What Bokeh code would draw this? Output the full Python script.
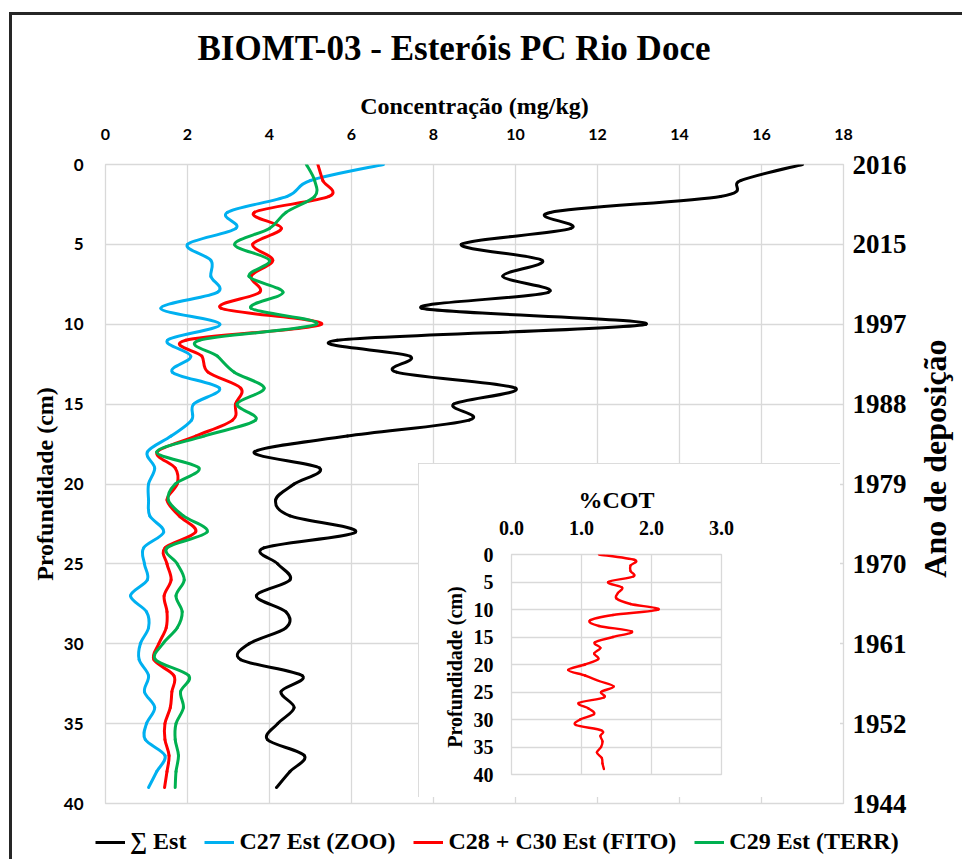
import numpy as np
from bokeh.plotting import figure
from bokeh.models import (Range1d, LinearAxis, FixedTicker, ColumnDataSource,
                          Legend, LegendItem, NumeralTickFormatter)
from bokeh.layouts import column
from bokeh.embed import file_html
from bokeh.resources import INLINE

# ---------------- data ----------------
depth_cm = [0, 1, 2, 3, 4, 5, 6, 7, 8, 9,
            10, 11, 12, 13, 14, 15, 16, 17, 18, 19,
            20, 21, 22, 23, 24, 25, 26, 27, 28, 29,
            30, 31, 32, 33, 34, 35, 36, 37, 38, 39]

sum_est = [17.0, 15.5, 15.0, 10.85, 11.35, 8.68, 10.65, 9.69, 10.8, 7.72,
           13.18, 5.65, 7.43, 7.1, 10.0, 8.49, 8.87, 5.9, 3.63, 5.22,
           4.6, 4.15, 4.5, 6.1, 3.86, 4.2, 4.5, 3.68, 4.4, 4.4,
           3.5, 3.3, 4.8, 4.28, 4.6, 4.2, 3.95, 4.85, 4.5, 4.17]

c27_zoo = [6.78, 5.0, 4.43, 2.97, 3.18, 2.0, 2.57, 2.57, 2.73, 1.35,
           2.79, 1.51, 2.08, 1.63, 2.78, 2.15, 2.1, 1.6, 1.02, 1.2,
           1.05, 1.05, 1.08, 1.42, 0.93, 0.95, 1.02, 0.61, 1.0, 1.05,
           0.85, 0.82, 1.05, 0.95, 1.2, 1.0, 0.97, 1.45, 1.25, 1.05]

c28_c30_fito = [5.18, 5.3, 5.45, 3.63, 4.29, 3.59, 4.08, 3.55, 3.76, 2.82,
                5.27, 1.96, 2.35, 2.5, 3.3, 3.17, 3.1, 2.2, 1.26, 1.7,
                1.75, 1.5, 1.8, 2.2, 1.45, 1.5, 1.6, 1.43, 1.5, 1.48,
                1.3, 1.18, 1.67, 1.62, 1.58, 1.45, 1.45, 1.55, 1.5, 1.44]

c29_terr = [4.9, 5.1, 5.1, 4.4, 4.0, 3.15, 4.0, 3.5, 4.33, 3.55,
            5.14, 2.29, 2.73, 3.14, 3.87, 3.21, 3.66, 2.4, 1.25, 2.28,
            1.7, 1.53, 1.9, 2.48, 1.5, 1.75, 1.92, 1.72, 1.87, 1.75,
            1.4, 1.22, 2.03, 1.83, 1.9, 1.72, 1.7, 1.78, 1.72, 1.7]

cot_pct = [1.25, 1.76, 1.7, 1.7, 1.74, 1.38, 1.58, 1.52, 1.5, 1.7,
           2.1, 1.45, 1.12, 1.25, 1.72, 1.45, 1.19, 1.27, 1.18, 1.24,
           1.05, 0.81, 1.05, 1.25, 1.46, 1.28, 1.32, 0.96, 1.1, 1.18,
           0.98, 0.92, 1.29, 1.27, 1.3, 1.28, 1.22, 1.29, 1.3, 1.32]

series_names = ["\u2211 Est", "C27 Est (ZOO)", "C28 + C30 Est (FITO)", "C29 Est (TERR)"]
series_colors = ["#000000", "#00B0F0", "#FF0000", "#00B050"]

conc_ticks = [0, 2, 4, 6, 8, 10, 12, 14, 16, 18]
depth_ticks = [0, 5, 10, 15, 20, 25, 30, 35, 40]
years = ["2016", "2015", "1997", "1988", "1979", "1970", "1961", "1952", "1944"]
cot_ticks = [0, 1, 2, 3]

SERIF = "Liberation Serif"
SANS = "Lato"
GRID = "#D9D9D9"


def smooth_source(xv, yv):
    x = np.asarray(xv, float)
    y = np.asarray(yv, float)
    n = len(x)
    xp = np.concatenate([[x[0]], x, [x[-1]]])
    yp = np.concatenate([[y[0]], y, [y[-1]]])
    return ColumnDataSource(dict(
        x0=x[:-1], y0=y[:-1], x1=x[1:], y1=y[1:],
        cx0=x[:-1] + (xp[2:n + 1] - xp[0:n - 1]) / 6.0,
        cy0=y[:-1] + (yp[2:n + 1] - yp[0:n - 1]) / 6.0,
        cx1=x[1:] - (xp[3:n + 2] - xp[1:n]) / 6.0,
        cy1=y[1:] - (yp[3:n + 2] - yp[1:n]) / 6.0))


def style_axis(ax, font, size, style="bold"):
    ax.major_tick_out = 0
    ax.major_tick_in = 0
    ax.minor_tick_out = 0
    ax.minor_tick_in = 0
    ax.axis_line_alpha = 0
    ax.major_label_text_font = font
    ax.major_label_text_font_size = size
    ax.major_label_text_font_style = style
    ax.major_label_text_color = "black"
    ax.axis_label_text_font = SERIF
    ax.axis_label_text_font_style = "bold"
    ax.axis_label_text_color = "black"


# ---------------- main figure ----------------
p = figure(width=950, height=820, x_range=Range1d(0, 18), y_range=Range1d(40, 0),
           x_axis_location="above", output_backend="svg", toolbar_location=None,
           min_border_left=93, min_border_right=119, min_border_top=161,
           min_border_bottom=20, title="BIOMT-03 - Esteróis PC Rio Doce",
           styles={"margin-top": "-12px"})
p.title.text_font = SERIF
p.title.text_font_size = "35px"
p.title.text_font_style = "bold"
p.title.text_color = "black"
p.title.align = "left"
p.title.offset = 92
p.title.standoff = 44
p.outline_line_color = GRID
p.outline_line_width = 1.3
p.background_fill_color = "white"
p.border_fill_color = None

xa = p.xaxis[0]
xa.ticker = FixedTicker(ticks=conc_ticks)
style_axis(xa, SANS, "16px")
xa.major_label_standoff = 25
xa.axis_label = "Concentração (mg/kg)"
xa.axis_label_text_font_size = "24px"
xa.axis_label_standoff = 7

ya = p.yaxis[0]
ya.ticker = FixedTicker(ticks=depth_ticks)
style_axis(ya, SANS, "17px")
ya.major_label_standoff = 22
ya.axis_label = "Profundidade (cm)"
ya.axis_label_text_font_size = "24px"
ya.axis_label_standoff = 3

ry = LinearAxis(ticker=FixedTicker(ticks=depth_ticks),
                major_label_overrides={t: yl for t, yl in zip(depth_ticks, years)})
style_axis(ry, SERIF, "27px")
ry.major_label_standoff = 9
p.add_layout(ry, "right")

p.xgrid.grid_line_color = GRID
p.xgrid.grid_line_width = 1.3
p.ygrid.grid_line_color = GRID
p.ygrid.grid_line_width = 1.3

for vals, col in zip([sum_est, c27_zoo, c28_c30_fito, c29_terr], series_colors):
    src = smooth_source(vals, depth_cm)
    p.bezier(x0="x0", y0="y0", x1="x1", y1="y1", cx0="cx0", cy0="cy0",
             cx1="cx1", cy1="cy1", source=src, line_color=col,
             line_width=3, line_cap="round")

# ---------------- right-hand title (reads bottom to top), own root ----------------
rt = figure(frame_width=2, frame_height=250, x_range=Range1d(0, 1),
            y_range=Range1d(0, 1), x_axis_type=None, y_axis_location="left",
            output_backend="svg", toolbar_location=None,
            min_border_left=38, min_border_right=0, min_border_top=0,
            min_border_bottom=0,
            styles={"position": "absolute", "left": "913px", "top": "333px"})
rt.outline_line_color = None
rt.grid.visible = False
rt.background_fill_alpha = 0
rt.border_fill_alpha = 0
rax = rt.yaxis[0]
rax.ticker = FixedTicker(ticks=[])
style_axis(rax, SERIF, "10px")
rax.axis_label = "Ano de deposição"
rax.axis_label_text_font_size = "32px"
rax.axis_label_standoff = 0

# ---------------- legend strip ----------------
lg = figure(frame_width=950, frame_height=36, x_range=Range1d(0, 1),
            y_range=Range1d(0, 1), x_axis_type=None, y_axis_type=None,
            output_backend="svg", toolbar_location=None, min_border=0,
            min_border_left=0, min_border_right=0, min_border_top=0,
            min_border_bottom=0)
lg.outline_line_color = None
lg.grid.visible = False
lg.background_fill_alpha = 0
lg.border_fill_alpha = 0
items = []
for name, col in zip(series_names, series_colors):
    r = lg.line(x=[float("nan")], y=[float("nan")], line_color=col, line_width=3)
    items.append(LegendItem(label=name, renderers=[r]))
legend = Legend(items=items, orientation="horizontal", location=(83, 4),
                label_text_font=SERIF, label_text_font_style="bold",
                label_text_font_size="24px", label_text_color="black",
                glyph_width=30, glyph_height=20,
                label_standoff=5, spacing=18, padding=0, margin=0,
                border_line_alpha=0, background_fill_alpha=0)
lg.add_layout(legend, "center")

# ---------------- inset ----------------
q = figure(width=422, height=334, x_range=Range1d(0, 3), y_range=Range1d(40, 0),
           x_axis_location="above", output_backend="svg", toolbar_location=None,
           min_border_left=90, min_border_right=32, min_border_top=91,
           min_border_bottom=23,
           styles={"position": "absolute", "left": "406px", "top": "448px",
                   "outline": "1px solid #D0D0D0", "outline-offset": "-1px"})
q.outline_line_color = GRID
q.outline_line_width = 1.3
qx = q.xaxis[0]
qx.ticker = FixedTicker(ticks=cot_ticks)
qx.formatter = NumeralTickFormatter(format="0.0")
style_axis(qx, SERIF, "20px")
qx.major_label_standoff = 20
qx.axis_label = "%COT"
qx.axis_label_text_font_size = "24px"
qx.axis_label_standoff = 5
qy = q.yaxis[0]
qy.ticker = FixedTicker(ticks=depth_ticks)
style_axis(qy, SERIF, "20px")
qy.major_label_standoff = 18
qy.axis_label = "Profundidade  (cm)"
qy.axis_label_text_font_size = "20px"
qy.axis_label_standoff = 5
q.xgrid.grid_line_color = GRID
q.xgrid.grid_line_width = 1.3
q.ygrid.grid_line_color = GRID
q.ygrid.grid_line_width = 1.3
q.bezier(x0="x0", y0="y0", x1="x1", y1="y1", cx0="cx0", cy0="cy0",
         cx1="cx1", cy1="cy1", source=smooth_source(cot_pct, depth_cm),
         line_color="#FF0000", line_width=2.4, line_cap="round")

layout = column(p, q, lg, styles={"position": "relative",
                                  "margin-left": "9px", "margin-top": "12px",
                                  "border-left": "3px solid #262626",
                                  "border-top": "3px solid #262626"})

open("out.html", "w").write(file_html([layout, rt], INLINE))
